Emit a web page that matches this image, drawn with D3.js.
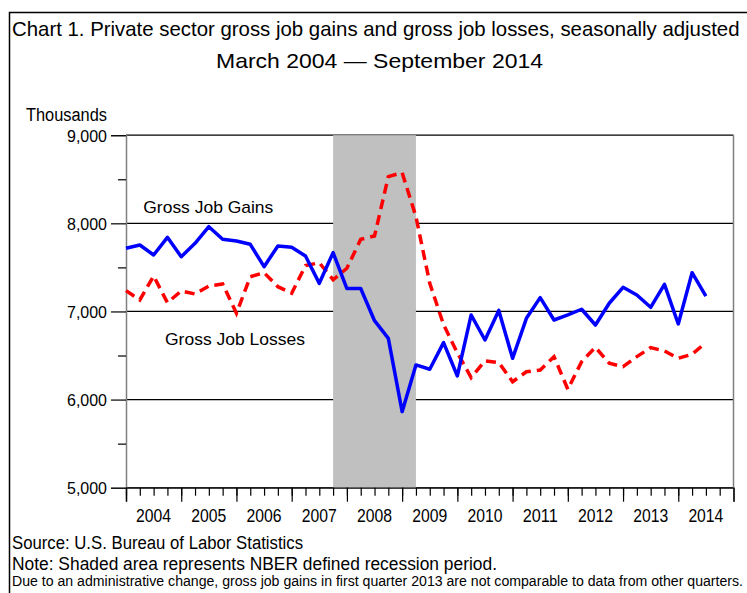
<!DOCTYPE html>
<html>
<head>
<meta charset="utf-8">
<script src="https://cdn.jsdelivr.net/npm/d3@7"></script>
<style>
  body { margin: 0; background: #fff; }
  text { font-family: "Liberation Sans", Arial, sans-serif; fill: #000; }
</style>
</head>
<body>
<script>
// quarterly data, thousands of jobs
var periods = ["2004Q1","2004Q2","2004Q3","2004Q4","2005Q1","2005Q2","2005Q3","2005Q4",
  "2006Q1","2006Q2","2006Q3","2006Q4","2007Q1","2007Q2","2007Q3","2007Q4",
  "2008Q1","2008Q2","2008Q3","2008Q4","2009Q1","2009Q2","2009Q3","2009Q4",
  "2010Q1","2010Q2","2010Q3","2010Q4","2011Q1","2011Q2","2011Q3","2011Q4",
  "2012Q1","2012Q2","2012Q3","2012Q4","2013Q1","2013Q2","2013Q3","2013Q4",
  "2014Q1","2014Q2","2014Q3"];

var gains = [7717, 7754, 7641, 7841, 7621, 7773, 7962, 7819,
  7800, 7762, 7508, 7743, 7728, 7629, 7319, 7667,
  7260, 7260, 6895, 6695, 5863, 6393, 6344, 6646,
  6268, 6960, 6676, 7012, 6468, 6922, 7157, 6903,
  6960, 7025, 6846, 7093, 7274, 7187, 7047, 7308,
  6858, 7440, 7175];

var losses = [7236, 7130, 7402, 7100, 7232, 7198, 7289, 7312,
  6979, 7394, 7440, 7281, 7206, 7520, 7553, 7360,
  7490, 7819, 7856, 8530, 8575, 8075, 7320, 6850,
  6530, 6250, 6440, 6420, 6203, 6316, 6336, 6487,
  6117, 6430, 6593, 6412, 6373, 6487, 6589, 6551,
  6468, 6514, 6646];

var yearLabels = [2004, 2005, 2006, 2007, 2008, 2009, 2010, 2011, 2012, 2013, 2014];
var yTicks = [5000, 6000, 7000, 8000, 9000];
var yMinorTicks = [5500, 6500, 7500, 8500];
var recession = ["2007Q4", "2009Q2"];

function toTime(p) {
  return +p.slice(0, 4) + (+p.slice(5) - 1) / 4;
}

var svg = d3.select("body").append("svg")
  .attr("width", 747)
  .attr("height", 593);

// outer frame (runs off the right and bottom)
svg.append("rect")
  .attr("x", 9.5).attr("y", 12.5)
  .attr("width", 800).attr("height", 700)
  .attr("fill", "none")
  .attr("stroke", "#000")
  .attr("stroke-width", 1.5);

var x = d3.scaleLinear().domain([2004, 2015]).range([126, 733.5]);
var y = d3.scaleLinear().domain([5000, 9000]).range([487.7, 135.2]);

function fitText(sel, len) {
  sel.attr("textLength", len).attr("lengthAdjust", "spacingAndGlyphs");
}

// squeeze a text horizontally with a transform (narrow SAS font)
function squeeze(sel, x0, y0, len) {
  var w = sel.node().getComputedTextLength();
  sel.attr("transform", "translate(" + x0 + "," + y0 + ") scale(" + (len / w) + ",1)");
}

// titles
svg.append("text")
  .style("font-size", "21px")
  .text("Chart 1. Private sector gross job gains and gross job losses, seasonally adjusted")
  .call(squeeze, 12, 35.7, 728);

svg.append("text")
  .attr("x", 379.5).attr("y", 67.5)
  .style("font-size", "21px")
  .style("text-anchor", "middle")
  .text("March 2004 \u2014 September 2014")
  .call(fitText, 327);

svg.append("text")
  .attr("x", 26).attr("y", 120.7)
  .style("font-size", "18px")
  .text("Thousands")
  .call(fitText, 81);

// gridlines
svg.append("g")
  .selectAll("line")
  .data(yTicks)
  .enter()
  .append("line")
  .attr("x1", x(2004)).attr("x2", x(2015))
  .attr("y1", d => y(d)).attr("y2", d => y(d))
  .attr("stroke", "#000")
  .attr("stroke-width", 1.2);

// recession shading
svg.append("rect")
  .attr("x", x(toTime(recession[0])))
  .attr("y", y(9000))
  .attr("width", x(toTime(recession[1])) - x(toTime(recession[0])))
  .attr("height", y(5000) - y(9000))
  .attr("fill", "#c0c0c0");

// right border
svg.append("line")
  .attr("x1", x(2015)).attr("x2", x(2015))
  .attr("y1", y(9000)).attr("y2", y(5000))
  .attr("stroke", "#808080")
  .attr("stroke-width", 1.5);

// y axis
var yAxis = svg.append("g")
  .attr("transform", "translate(" + x(2004) + ",0)")
  .call(d3.axisLeft(y).tickValues(yTicks).tickSize(15).tickPadding(4).tickFormat(d3.format(",")));
yAxis.select(".domain").attr("stroke", "#808080").attr("stroke-width", 1.5);
yAxis.selectAll(".tick line").attr("stroke", "#000").attr("stroke-width", 1.2);
yAxis.selectAll("text")
  .style("font-size", "17px")
  .attr("dy", "0.36em")
  .call(fitText, 40);

svg.append("g")
  .attr("transform", "translate(" + x(2004) + ",0)")
  .call(d3.axisLeft(y).tickValues(yMinorTicks).tickSize(8).tickFormat(""))
  .call(g => g.select(".domain").remove())
  .selectAll(".tick line").attr("stroke", "#000").attr("stroke-width", 1.2);

// x axis: year boundaries, quarters, centred labels
var yearEdges = yearLabels.concat([2015]);
var quarterTicks = periods.map(toTime).concat([2014.75]);

var xAxis = svg.append("g")
  .attr("transform", "translate(0," + y(5000) + ")")
  .call(d3.axisBottom(x).tickValues(yearEdges).tickSize(14).tickFormat(""));
xAxis.select(".domain").attr("stroke", "#404040").attr("stroke-width", 1.5);
xAxis.selectAll(".tick line").attr("stroke", "#000").attr("stroke-width", 1.2);

svg.append("g")
  .attr("transform", "translate(0," + y(5000) + ")")
  .call(d3.axisBottom(x).tickValues(quarterTicks).tickSize(8).tickFormat(""))
  .call(g => g.select(".domain").remove())
  .selectAll(".tick line").attr("stroke", "#000").attr("stroke-width", 1.2);

svg.append("g")
  .selectAll("text")
  .data(yearLabels)
  .enter()
  .append("text")
  .attr("x", d => x(d + 0.5))
  .attr("y", 521.7)
  .style("font-size", "19px")
  .style("text-anchor", "middle")
  .text(d => d)
  .call(fitText, 35);

// series
var line = d3.line()
  .x((d, i) => x(toTime(periods[i])))
  .y(d => y(d));

svg.append("path")
  .datum(losses)
  .attr("d", line)
  .attr("fill", "none")
  .attr("stroke", "#ff0000")
  .attr("stroke-width", 3.5)
  .attr("stroke-dasharray", "10,6");

svg.append("path")
  .datum(gains)
  .attr("d", line)
  .attr("fill", "none")
  .attr("stroke", "#0000ff")
  .attr("stroke-width", 3.5)
  .attr("stroke-linejoin", "round");

// series labels
svg.append("text")
  .attr("x", 143.3).attr("y", 212.7)
  .style("font-size", "17px")
  .text("Gross Job Gains")
  .call(fitText, 130);

svg.append("text")
  .attr("x", 165).attr("y", 345)
  .style("font-size", "17px")
  .text("Gross Job Losses")
  .call(fitText, 140);

// notes
svg.append("text")
  .attr("x", 12).attr("y", 549.3)
  .style("font-size", "18px")
  .text("Source: U.S. Bureau of Labor Statistics")
  .call(fitText, 291);

svg.append("text")
  .attr("x", 12).attr("y", 569.5)
  .style("font-size", "17.5px")
  .text("Note: Shaded area represents NBER defined recession period.")
  .call(fitText, 485);

svg.append("text")
  .attr("x", 12).attr("y", 586)
  .style("font-size", "14px")
  .text("Due to an administrative change, gross job gains in first quarter 2013 are not comparable to data from other quarters.")
  .call(fitText, 731);
</script>
</body>
</html>
